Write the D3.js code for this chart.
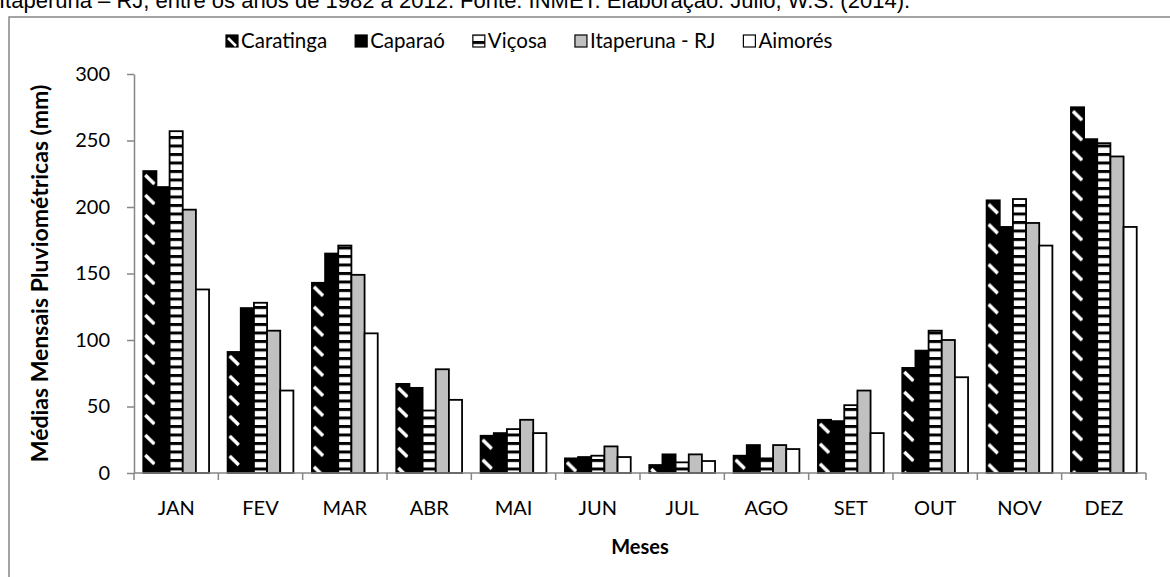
<!DOCTYPE html>
<html>
<head>
<meta charset="utf-8">
<script src="https://cdn.jsdelivr.net/npm/d3@7"></script>
<style>
  body { margin: 0; background: #fff; }
  svg { display: block; }
  text { font-family: Lato, "Open Sans", sans-serif; fill: #000; }
</style>
</head>
<body>
<div id="chart"></div>
<script>
// Data
const months = ['JAN', 'FEV', 'MAR', 'ABR', 'MAI', 'JUN', 'JUL', 'AGO', 'SET', 'OUT', 'NOV', 'DEZ'];
const stations = ['Caratinga', 'Caparaó', 'Viçosa', 'Itaperuna - RJ', 'Aimorés'];
const caratinga = [227, 91, 143, 67, 28, 11, 6, 13, 40, 79, 205, 275];
const caparao = [215, 124, 165, 64, 30, 12, 14, 21, 39, 92, 185, 251];
const vicosa = [257, 128, 171, 47, 33, 13, 8, 11, 51, 107, 206, 248];
const itaperuna = [198, 107, 149, 78, 40, 20, 14, 21, 62, 100, 188, 238];
const aimores = [138, 62, 105, 55, 30, 12, 9, 18, 30, 72, 171, 185];
const yTicks = [0, 50, 100, 150, 200, 250, 300];
const caption = 'Itaperuna – RJ, entre os anos de 1982 a 2012. Fonte: INMET. Elaboração: Julio, W.S. (2014).';

const series = [caratinga, caparao, vicosa, itaperuna, aimores];

function draw() {
  // Dimensions
  let dimensions = {
    width: 1170,
    height: 577,
    left: 134,
    right: 1146,
    top: 74,
    bottom: 473,
  };

  const svg = d3.select('#chart')
    .append('svg')
    .attr('width', dimensions.width)
    .attr('height', dimensions.height)

  const defs = svg.append('defs')

  // horizontal lines (Viçosa)
  const hl = defs.append('pattern')
    .attr('id', 'hlines')
    .attr('patternUnits', 'userSpaceOnUse')
    .attr('width', 10)
    .attr('height', 8.5)
  hl.append('rect').attr('width', 10).attr('height', 8.5).attr('fill', '#fff')
  hl.append('rect').attr('width', 10).attr('height', 3).attr('fill', '#000')

  // caption cut at top + frame
  svg.append('text')
    .attr('x', -1)
    .attr('y', 8)
    .style('font-family', '"Liberation Sans", Arial, sans-serif')
    .style('font-size', '22px')
    .text(caption)

  svg.append('rect')
    .attr('x', 9)
    .attr('y', 17)
    .attr('width', 1180)
    .attr('height', 600)
    .attr('fill', 'none')
    .attr('stroke', '#868686')
    .attr('stroke-width', 1.5)

  // Scales
  const xScale = d3.scaleBand()
    .domain(months)
    .range([dimensions.left, dimensions.right])
    .paddingInner(0)
    .paddingOuter(0)

  const groupPad = 0.11
  const xInner = d3.scaleBand()
    .domain(d3.range(stations.length))
    .range([xScale.bandwidth() * groupPad, xScale.bandwidth() * (1 - groupPad)])

  const yScale = d3.scaleLinear()
    .domain([0, 300])
    .range([dimensions.bottom, dimensions.top])

  const bw = xInner.bandwidth()

  // per-bar diagonal patterns for Caratinga so the dashes sit inside each bar
  const diag = defs.selectAll('.diag')
    .data(caratinga)
    .join('pattern')
    .attr('class', 'diag')
    .attr('id', (d, i) => 'diag' + i)
    .attr('patternUnits', 'userSpaceOnUse')
    .attr('x', (d, i) => xScale(months[i]) + xInner(0))
    .attr('y', d => yScale(d))
    .attr('width', bw)
    .attr('height', 20)
  diag.append('rect').attr('width', bw).attr('height', 20).attr('fill', '#000')
  diag.append('line')
    .attr('x1', 2).attr('y1', 4)
    .attr('x2', bw - 2).attr('y2', 13)
    .attr('stroke', '#fff')
    .attr('stroke-width', 3.5)

  const fills = [
    (d, i) => 'url(#diag' + i + ')',
    () => '#000',
    () => 'url(#hlines)',
    () => '#c0c0c0',
    () => '#fff',
  ]

  // Bars
  series.forEach((values, s) => {
    svg.append('g')
      .selectAll('rect')
      .data(values)
      .join('rect')
      .attr('x', (d, i) => xScale(months[i]) + xInner(s))
      .attr('y', d => yScale(d))
      .attr('width', bw)
      .attr('height', d => yScale(0) - yScale(d))
      .attr('fill', fills[s])
      .attr('stroke', '#000')
      .attr('stroke-width', 1.8)
  })

  // Axes
  const yAxis = d3.axisLeft(yScale)
    .tickValues(yTicks)
    .tickSize(7)
    .tickSizeOuter(0)
    .tickPadding(17)

  const yAxisGroup = svg.append('g')
    .attr('transform', `translate(${dimensions.left},0)`)
    .call(yAxis)
  yAxisGroup.selectAll('path, line').attr('stroke', '#868686').attr('stroke-width', 1.5)
  yAxisGroup.selectAll('text')
    .style('font-size', '20px')
    .style('font-family', 'Lato, sans-serif')
    .attr('fill', '#000')

  const xAxisGroup = svg.append('g')
  xAxisGroup.append('line')
    .attr('x1', dimensions.left)
    .attr('x2', dimensions.right)
    .attr('y1', yScale(0))
    .attr('y2', yScale(0))
    .attr('stroke', '#868686')
    .attr('stroke-width', 1.5)

  const bounds = months.map(m => xScale(m)).concat([dimensions.right])
  xAxisGroup.selectAll('.tick')
    .data(bounds)
    .join('line')
    .attr('x1', d => d)
    .attr('x2', d => d)
    .attr('y1', yScale(0))
    .attr('y2', yScale(0) + 7)
    .attr('stroke', '#868686')
    .attr('stroke-width', 1.5)

  xAxisGroup.selectAll('.lbl')
    .data(months)
    .join('text')
    .attr('x', d => xScale(d) + xScale.bandwidth() / 2)
    .attr('y', 515)
    .attr('text-anchor', 'middle')
    .style('font-size', '20px')
    .text(d => d)

  // Axis titles
  svg.append('text')
    .attr('x', (dimensions.left + dimensions.right) / 2)
    .attr('y', 554)
    .attr('text-anchor', 'middle')
    .style('font-size', '20px')
    .style('font-weight', 'bold')
    .text('Meses')

  svg.append('text')
    .attr('transform', `translate(48, ${(dimensions.top + dimensions.bottom) / 2}) rotate(-90)`)
    .attr('text-anchor', 'middle')
    .style('font-size', '23px')
    .style('font-weight', 'bold')
    .text('Médias Mensais Pluviométricas (mm)')

  // Legend
  const legend = svg.append('g')
  let lx = 226
  stations.forEach((name, s) => {
    const item = legend.append('g').attr('transform', `translate(${lx},41)`)
    if (s === 0) {
      item.append('rect')
        .attr('x', 0).attr('y', -6).attr('width', 12).attr('height', 12)
        .attr('fill', '#000').attr('stroke', '#000').attr('stroke-width', 1.2)
      item.append('line')
        .attr('x1', 2).attr('y1', -3).attr('x2', 10).attr('y2', 5)
        .attr('stroke', '#fff').attr('stroke-width', 2.5)
    } else {
      item.append('rect')
        .attr('x', 0).attr('y', -6).attr('width', 12).attr('height', 12)
        .attr('fill', s === 2 ? 'url(#hlines)' : fills[s]())
        .attr('stroke', '#000').attr('stroke-width', 1.2)
    }
    const t = item.append('text')
      .attr('x', 15)
      .attr('y', 7)
      .style('font-size', '20.5px')
      .text(name)
    lx += 15 + t.node().getComputedTextLength() + 28
  })
}

draw()
</script>
</body>
</html>
